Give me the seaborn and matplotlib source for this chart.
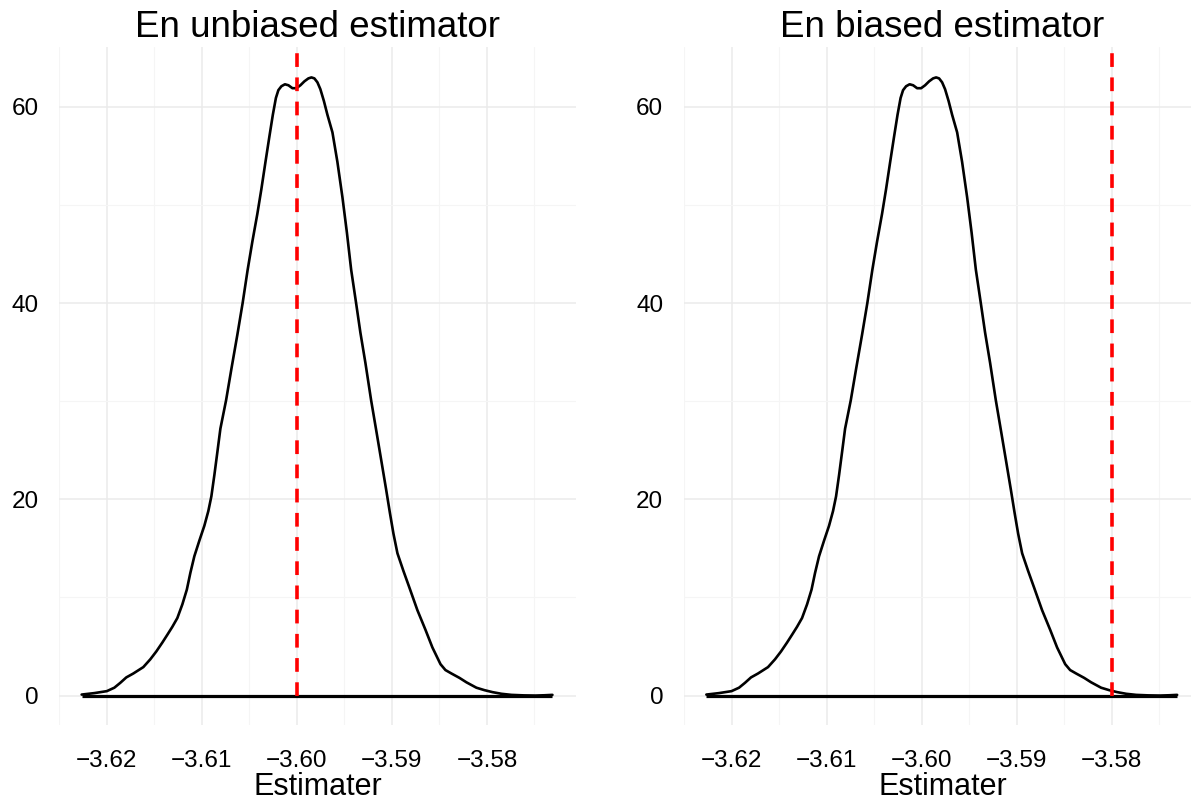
import numpy as np
import pandas as pd
import matplotlib
matplotlib.use('Agg')
import matplotlib.pyplot as plt
import seaborn as sns
from matplotlib.ticker import MultipleLocator

# density curve of the estimates (same curve in both panels)
estimate = [-3.62265, -3.62132, -3.62000, -3.61921, -3.61858, -3.61795,
            -3.61721, -3.61616, -3.61542, -3.61479, -3.61416, -3.61363,
            -3.61311, -3.61258, -3.61205, -3.61158, -3.61121, -3.61079,
            -3.61026, -3.60974, -3.60932, -3.60900, -3.60868, -3.60837,
            -3.60805, -3.60745, -3.60689, -3.60626, -3.60571, -3.60518,
            -3.60468, -3.60416, -3.60374, -3.60332, -3.60289, -3.60253,
            -3.60221, -3.60195, -3.60163, -3.60126, -3.60089, -3.60047,
            -3.60005, -3.59963, -3.59921, -3.59879, -3.59847, -3.59816,
            -3.59784, -3.59753, -3.59716, -3.59679, -3.59626, -3.59574,
            -3.59521, -3.59474, -3.59429, -3.59377, -3.59332, -3.59279,
            -3.59219, -3.59163, -3.59111, -3.59061, -3.59021, -3.58984,
            -3.58942, -3.58879, -3.58816, -3.58732, -3.58647, -3.58574,
            -3.58489, -3.58437, -3.58374, -3.58289, -3.58216, -3.58111,
            -3.58026, -3.57942, -3.57847, -3.57742, -3.57616, -3.57489,
            -3.57395, -3.57311]
density = [0.10, 0.25, 0.45, 0.80, 1.30, 1.85,
           2.25, 2.90, 3.70, 4.50, 5.40, 6.20,
           7.00, 7.90, 9.30, 10.8, 12.5, 14.2,
           15.8, 17.3, 18.8, 20.3, 22.5, 24.8,
           27.2, 30.1, 33.3, 36.8, 40.0, 43.4,
           46.3, 49.1, 51.6, 54.3, 57.0, 59.2,
           60.9, 61.7, 62.1, 62.3, 62.2, 61.9,
           61.9, 62.2, 62.6, 62.9, 63.0, 62.9,
           62.5, 61.8, 60.6, 59.2, 57.4, 54.4,
           50.8, 47.2, 43.4, 40.0, 37.0, 33.9,
           30.1, 26.9, 23.9, 21.0, 18.6, 16.5,
           14.5, 12.7, 11.0, 8.70, 6.70, 4.90,
           3.20, 2.60, 2.25, 1.80, 1.35, 0.80,
           0.55, 0.35, 0.18, 0.07, 0.02, 0.00,
           0.03, 0.07]

titles = ['En unbiased estimator', 'En biased estimator']
true_values = [-3.60, -3.58]
x_ticks = [-3.62, -3.61, -3.60, -3.59, -3.58]
y_ticks = [0, 20, 40, 60]

df = pd.DataFrame({'Estimater': estimate, 'density': density})

sns.set_theme(style='whitegrid')
plt.rcParams['font.family'] = ['Liberation Sans', 'DejaVu Sans']

fig = plt.figure(figsize=(11.91, 8.02), dpi=100)
W, H = 1191, 802
positions = [(59.3 / W, 77 / H, 517 / W, 678 / H),
             (684 / W, 77 / H, 517 / W, 678 / H)]

for pos, title, true_val in zip(positions, titles, true_values):
    ax = fig.add_axes(pos)
    ax.set_xlim(-3.6250, -3.5706)
    ax.set_ylim(-3.0, 66.1)

    ax.xaxis.set_minor_locator(MultipleLocator(0.005))
    ax.yaxis.set_minor_locator(MultipleLocator(10))
    ax.set_xticks(x_ticks)
    ax.set_xticklabels(['\u2212%.2f' % abs(v) for v in x_ticks])
    ax.set_yticks(y_ticks)

    ax.grid(True, which='major', color='#ebebeb', lw=1.1)
    ax.grid(True, which='minor', color='#f5f5f5', lw=0.8)
    ax.set_facecolor('white')
    for s in ax.spines.values():
        s.set_visible(False)
    ax.spines['bottom'].set_position(('outward', 2))

    sns.lineplot(data=df, x='Estimater', y='density', ax=ax, sort=False,
                 estimator=None, color='black', lw=1.9,
                 solid_joinstyle='round', solid_capstyle='round')
    ax.hlines(0, df['Estimater'].min(), df['Estimater'].max(),
              color='black', lw=2.3, zorder=3)
    ax.plot([true_val, true_val], [0, 66.1], color='#ff0000', lw=2.6,
            dashes=(3.8, 2.9), zorder=4)

    ax.tick_params(axis='both', which='major', length=8, width=1.8,
                   color='black', labelsize=17.5, labelcolor='black')
    ax.tick_params(axis='x', pad=8)
    ax.tick_params(axis='y', pad=7)
    ax.tick_params(which='minor', length=0)
    ax.set_xlabel('Estimater', fontsize=22, labelpad=0, color='black')
    ax.set_ylabel('')
    ax.set_title(title, fontsize=26.5, pad=7, color='black')

fig.savefig('out.png', dpi=100)
